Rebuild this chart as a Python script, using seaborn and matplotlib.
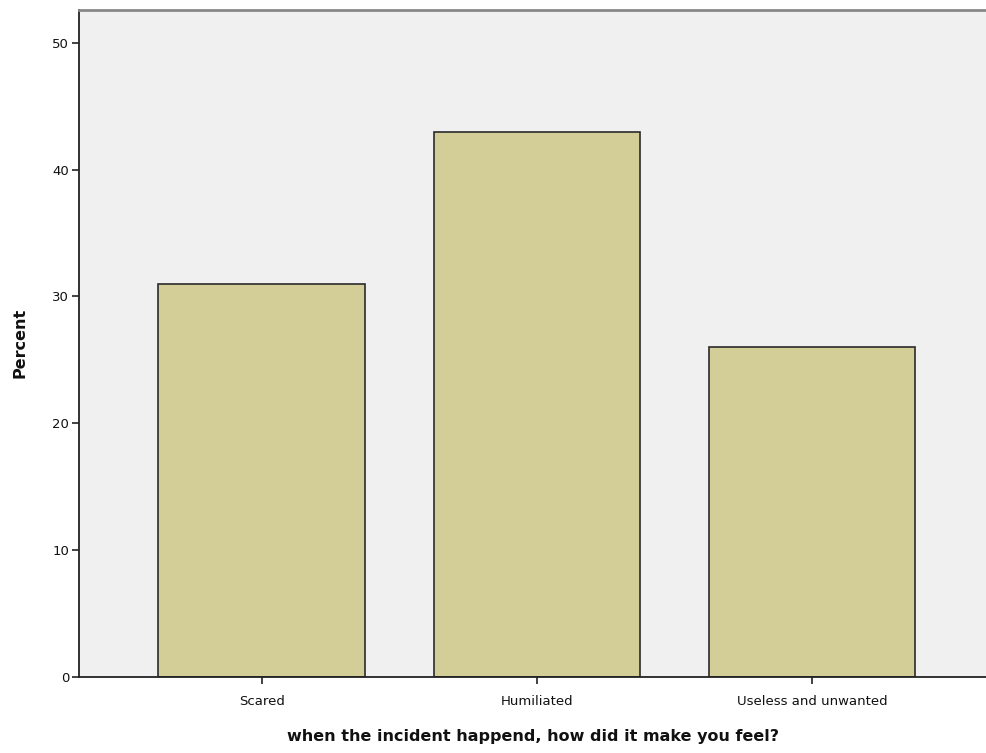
import matplotlib
matplotlib.use('Agg')
import matplotlib.pyplot as plt
import seaborn as sns
import pandas as pd

categories = ['Scared', 'Humiliated', 'Useless and unwanted']
percent = [31, 43, 26]
y_ticks = [0, 10, 20, 30, 40, 50]

data = pd.DataFrame({'feel': categories, 'Percent': percent})

sns.set_style('white')
plt.rcParams['font.family'] = ['DejaVu Sans']

fig = plt.figure(figsize=(9.87, 7.53), dpi=100)
ax = fig.add_axes([0.080, 0.101, 0.920, 0.886])
ax.set_facecolor('#F0F0F0')

sns.barplot(x='feel', y='Percent', data=data, color='#D3CE97', width=0.752,
            edgecolor='#2b2b2b', linewidth=1.2, saturation=1, ax=ax)

ax.set_xlim(-0.665, 2.636)
ax.set_ylim(0, 52.6)
ax.set_yticks(y_ticks)
ax.tick_params(axis='both', direction='out', length=5, width=1.2, color='#222222',
               labelsize=9.5, labelcolor='#111111', bottom=True, left=True)
ax.tick_params(axis='x', pad=8)
ax.tick_params(axis='y', pad=2)

for s in ['left', 'bottom']:
    ax.spines[s].set_color('#222222')
    ax.spines[s].set_linewidth(1.3)
ax.spines['top'].set_color('#888888')
ax.spines['top'].set_linewidth(2)
ax.spines['right'].set_visible(False)

ax.set_xlabel('when the incident happend, how did it make you feel?',
              fontsize=11.5, fontweight='bold', labelpad=15, color='#111111')
ax.set_ylabel('Percent', fontsize=11.5, fontweight='bold', labelpad=18, color='#111111')

fig.savefig('out.png', dpi=100, facecolor='white')
